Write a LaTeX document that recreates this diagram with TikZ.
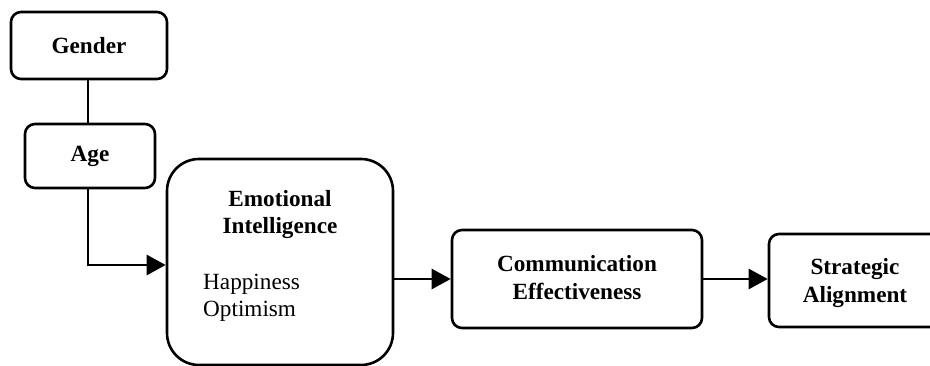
\documentclass[tikz,border=0pt]{standalone}
\usepackage{fontspec}
\setmainfont{Liberation Serif}
\usetikzlibrary{arrows.meta}
\tikzset{
  box/.style={draw, line width=2.6pt, rounded corners=10pt, inner sep=0pt},
  bigbox/.style={draw, line width=2.6pt, rounded corners=32pt, inner sep=0pt},
  lbl/.style={font=\fontsize{23.2}{27}\selectfont\bfseries, inner sep=0pt, anchor=base},
  plain/.style={font=\fontsize{23.2}{27}\selectfont, inner sep=0pt, anchor=base west},
  conn/.style={line width=2.6pt},
  arr/.style={line width=2.6pt, -{Triangle[length=19pt,width=20pt]}}
}
\begin{document}
\begin{tikzpicture}[x=1pt,y=-1pt]
\useasboundingbox (0,0) rectangle (930,366);
% boxes
\node[box, minimum width=156pt, minimum height=67pt, font=\fontsize{23.2}{27}\selectfont\bfseries] (gender) at (89,45.5) {Gender};
\node[box, minimum width=130pt, minimum height=64pt, font=\fontsize{23.2}{27}\selectfont\bfseries] (age) at (90,156) {Age};
\node[bigbox, minimum width=226pt, minimum height=206pt] (ei) at (280,262) {};
\node[box, minimum width=250pt, minimum height=98pt] (ce) at (577,279) {};
\node[box, minimum width=172pt, minimum height=93pt] (sa) at (855,280.5) {};
% texts
\node[lbl] (eit1) at (280,207) {Emotional};
\node[lbl] (eit2) at (280,234) {Intelligence};
\node[plain] (eih) at (203,290) {Happiness};
\node[plain] (eio) at (203,317) {Optimism};
\node[lbl] (cet1) at (577,272) {Communication};
\node[lbl] (cet2) at (577,300) {Effectiveness};
\node[lbl] (sat1) at (855,275) {Strategic};
\node[lbl] (sat2) at (855,303) {Alignment};
% connectors
\coordinate (gx) at (88,0);
\draw[conn] (gx |- gender.south) -- (gx |- age.north);
\coordinate (bend) at (88,265);
\draw[arr] (gx |- age.south) -- (bend) -- (bend -| ei.west);
\draw[arr] (ei.east |- ce.west) -- (ce.west);
\draw[arr] (ce.east) -- (ce.east -| sa.west);
\end{tikzpicture}
\end{document}
